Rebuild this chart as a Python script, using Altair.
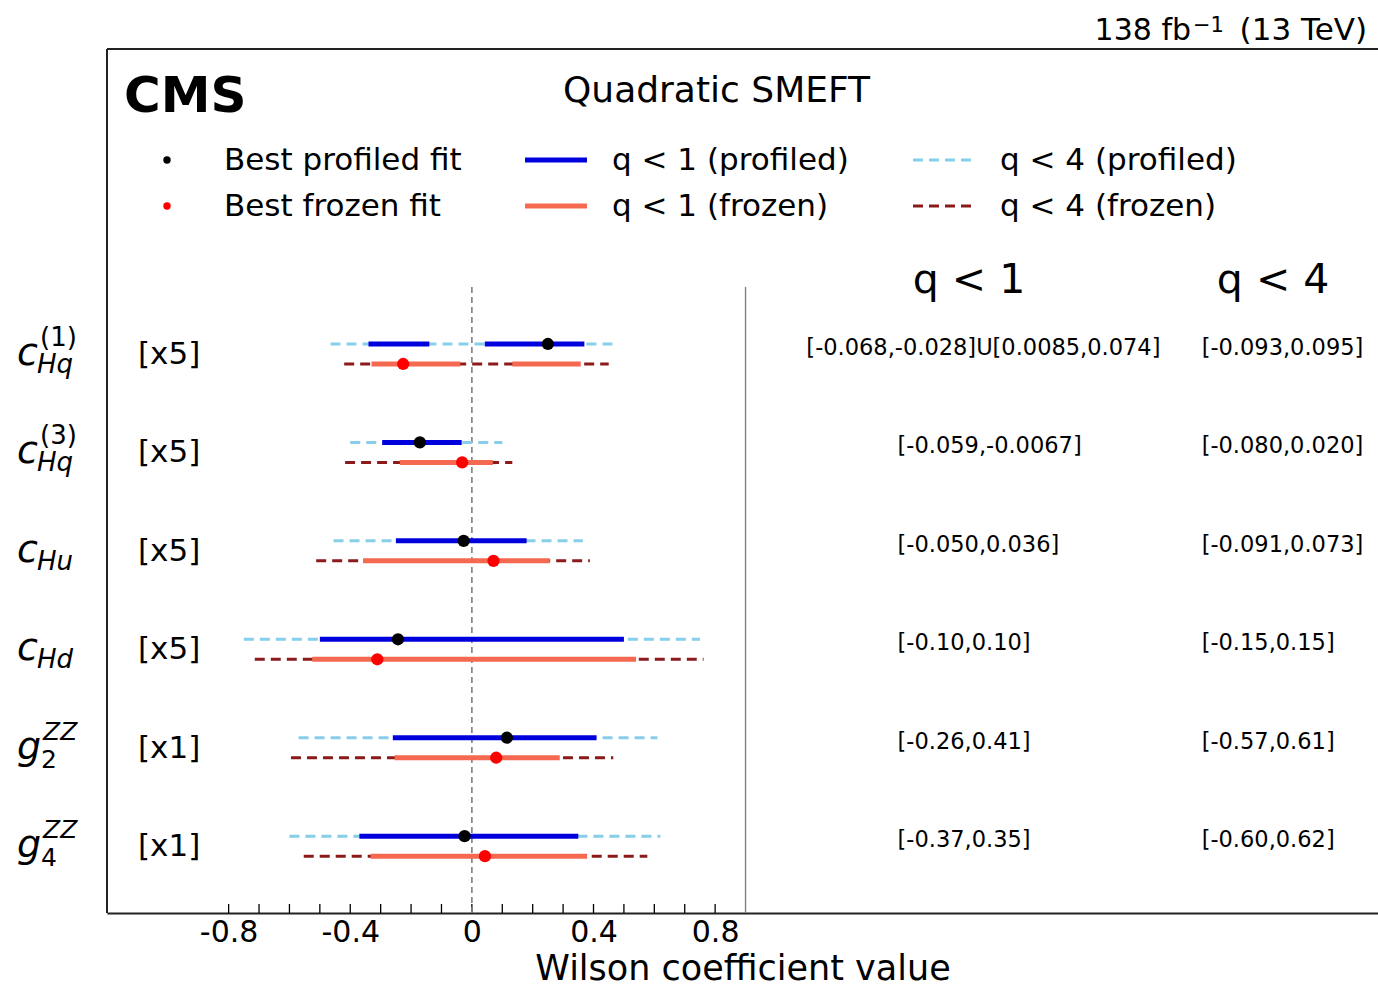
import altair as alt
import pandas as pd

FONT = "DejaVu Sans"
W, H = 1271, 864

# ---------------- data ----------------
rows = [0, 1, 2, 3, 4, 5]
sym_main = ["c", "c", "c", "c", "g", "g"]
sym_sub = ["Hq", "Hq", "Hu", "Hd", "2", "4"]
sym_sup = ["(1)", "(3)", "", "", "ZZ", "ZZ"]
scale_text = ["[x5]", "[x5]", "[x5]", "[x5]", "[x1]", "[x1]"]

# profiled intervals (scaled)
prof_q4_lo = [-0.465, -0.40, -0.455, -0.75, -0.57, -0.60]
prof_q4_hi = [0.475, 0.10, 0.365, 0.75, 0.61, 0.62]
prof_q1_row = [0, 0, 1, 2, 3, 4, 5]
prof_q1_lo = [-0.34, 0.0425, -0.295, -0.25, -0.50, -0.26, -0.37]
prof_q1_hi = [-0.14, 0.37, -0.0335, 0.18, 0.50, 0.41, 0.35]
best_prof = [0.250, -0.171, -0.027, -0.243, 0.115, -0.024]

# frozen intervals (scaled)
froz_q4_lo = [-0.42, -0.417, -0.512, -0.714, -0.595, -0.553]
froz_q4_hi = [0.45, 0.133, 0.388, 0.762, 0.465, 0.577]
froz_q1_row = [0, 0, 1, 2, 3, 4, 5]
froz_q1_lo = [-0.33, 0.133, -0.237, -0.358, -0.525, -0.254, -0.333]
froz_q1_hi = [-0.038, 0.358, 0.069, 0.256, 0.540, 0.289, 0.379]
best_froz = [-0.226, -0.032, 0.071, -0.311, 0.080, 0.043]

q1_text = ["[-0.068,-0.028]U[0.0085,0.074]", "[-0.059,-0.0067]", "[-0.050,0.036]",
           "[-0.10,0.10]", "[-0.26,0.41]", "[-0.37,0.35]"]
q4_text = ["[-0.093,0.095]", "[-0.080,0.020]", "[-0.091,0.073]",
           "[-0.15,0.15]", "[-0.57,0.61]", "[-0.60,0.62]"]
headers = ["q < 1", "q < 4"]
header_x = [1.45, 2.45]

tick_vals = [-0.8, -0.7, -0.6, -0.5, -0.4, -0.3, -0.2, -0.1, 0.0,
             0.1, 0.2, 0.3, 0.4, 0.5, 0.6, 0.7, 0.8]
label_vals = [-0.8, -0.4, 0.0, 0.4, 0.8]
vlines = [0.0, 0.9]

# ---------------- scales / axes ----------------
xs = alt.Scale(domain=[-1.2, 2.98], nice=False, zero=False)
ys = alt.Scale(domain=[-3.098, 5.679], nice=False, zero=False, reverse=True)

XAX = alt.Axis(
    values=label_vals, ticks=False, domain=True, domainColor="#222222", domainWidth=2,
    labelFontSize=30, labelFont=FONT, labelColor="black", labelPadding=4,
    labelExpr="datum.value == 0 ? '0' : (datum.value < 0 ? '-' + format(-datum.value, '.1f') : format(datum.value, '.1f'))",
    title="Wilson coefficient value", titleFont=FONT, titleFontSize=35,
    titleFontWeight="normal", titleColor="black", titlePadding=4, grid=False)


def X(f):
    return alt.X(f, type="quantitative", scale=xs, axis=XAX)


def Y(f):
    return alt.Y(f, type="quantitative", scale=ys, axis=None)


one = pd.DataFrame({"a": [0]})

df_pq4 = pd.DataFrame({"row": rows, "lo": prof_q4_lo, "hi": prof_q4_hi})
df_fq4 = pd.DataFrame({"row": rows, "lo": froz_q4_lo, "hi": froz_q4_hi})
df_pq1 = pd.DataFrame({"row": prof_q1_row, "lo": prof_q1_lo, "hi": prof_q1_hi})
df_fq1 = pd.DataFrame({"row": froz_q1_row, "lo": froz_q1_lo, "hi": froz_q1_hi})
df_bp = pd.DataFrame({"row": rows, "v": best_prof})
df_bf = pd.DataFrame({"row": rows, "v": best_froz})
df_lab = pd.DataFrame({"row": rows, "main": sym_main, "sub": sym_sub, "sup": sym_sup,
                       "scl": scale_text})
df_tab1 = pd.DataFrame({"row": rows, "t": q1_text})
df_tab1["x"] = [1.1 if "U" in t else 1.4 for t in q1_text]
df_tab4 = pd.DataFrame({"row": rows, "t": q4_text})
df_tab4["x"] = 2.4
df_head = pd.DataFrame({"t": headers, "x": header_x})
df_ticks = pd.DataFrame({"t": tick_vals})
df_zero = pd.DataFrame({"x": [vlines[0]], "ytop": [-0.68]})
df_sep = pd.DataFrame({"x": [vlines[1]], "ytop": [-0.68]})

layers = []

# minor ticks (inward) -- also carries the x axis
layers.append(alt.Chart(df_ticks).mark_rule(color="black", strokeWidth=1.3).encode(
    x=X("t:Q"), y=alt.value(H - 9), y2=alt.value(H)))

# frame top & left
layers.append(alt.Chart(one).mark_rule(color="#222222", strokeWidth=2).encode(
    x=alt.value(0), x2=alt.value(W), y=alt.value(0)))
layers.append(alt.Chart(one).mark_rule(color="#222222", strokeWidth=2).encode(
    x=alt.value(0), y=alt.value(0), y2=alt.value(H)))

# zero dashed line and separator
layers.append(alt.Chart(df_zero).mark_rule(color="#808080", strokeWidth=1.6, strokeDash=[6, 4]).encode(
    x=X("x:Q"), y=Y("ytop:Q"), y2=alt.value(H)))
layers.append(alt.Chart(df_sep).mark_rule(color="#808080", strokeWidth=1.4).encode(
    x=X("x:Q"), y=Y("ytop:Q"), y2=alt.value(H)))

# intervals
layers.append(alt.Chart(df_pq4).mark_rule(color="#87CEEB", strokeWidth=3, strokeDash=[10, 6], yOffset=-10).encode(
    x=X("lo:Q"), x2="hi:Q", y=Y("row:Q")))
layers.append(alt.Chart(df_fq4).mark_rule(color="#8B1A1A", strokeWidth=3, strokeDash=[10, 6], yOffset=10).encode(
    x=X("lo:Q"), x2="hi:Q", y=Y("row:Q")))
layers.append(alt.Chart(df_pq1).mark_rule(color="#0000DD", strokeWidth=5, yOffset=-10).encode(
    x=X("lo:Q"), x2="hi:Q", y=Y("row:Q")))
layers.append(alt.Chart(df_fq1).mark_rule(color="#F4694F", strokeWidth=5, yOffset=10).encode(
    x=X("lo:Q"), x2="hi:Q", y=Y("row:Q")))
layers.append(alt.Chart(df_bp).mark_point(filled=True, color="black", opacity=1, size=150, yOffset=-10).encode(
    x=X("v:Q"), y=Y("row:Q")))
layers.append(alt.Chart(df_bf).mark_point(filled=True, color="#FF0000", opacity=1, size=150, yOffset=10).encode(
    x=X("v:Q"), y=Y("row:Q")))

# row labels (math symbols)
layers.append(alt.Chart(df_lab).mark_text(font=FONT, fontSize=38, fontStyle="italic", align="left",
                                          baseline="alphabetic", dy=11, color="black").encode(
    x=alt.value(-90), y=Y("row:Q"), text="main:N"))
layers.append(alt.Chart(df_lab).transform_filter("datum.row < 4").mark_text(
    font=FONT, fontSize=26, fontStyle="italic", align="left", baseline="alphabetic", dy=19, color="black").encode(
    x=alt.value(-70), y=Y("row:Q"), text="sub:N"))
layers.append(alt.Chart(df_lab).transform_filter("datum.row >= 4").mark_text(
    font=FONT, fontSize=25, align="left", baseline="alphabetic", dy=20, color="black").encode(
    x=alt.value(-66), y=Y("row:Q"), text="sub:N"))
layers.append(alt.Chart(df_lab).transform_filter("datum.row < 2").mark_text(
    font=FONT, fontSize=26, align="left", baseline="alphabetic", dy=-8, color="black").encode(
    x=alt.value(-67), y=Y("row:Q"), text="sup:N"))
layers.append(alt.Chart(df_lab).transform_filter("datum.row >= 4").mark_text(
    font=FONT, fontSize=25, fontStyle="italic", align="left", baseline="alphabetic", dy=-8, color="black").encode(
    x=alt.value(-64), y=Y("row:Q"), text="sup:N"))
layers.append(alt.Chart(df_lab).mark_text(font=FONT, fontSize=31, align="left", baseline="alphabetic",
                                          dy=10, color="black").encode(
    x=alt.value(31), y=Y("row:Q"), text="scl:N"))

# table
layers.append(alt.Chart(df_tab1).mark_text(font=FONT, fontSize=22.5, align="left", baseline="alphabetic",
                                           dy=1, color="black").encode(
    x=X("x:Q"), y=Y("row:Q"), text="t:N"))
layers.append(alt.Chart(df_tab4).mark_text(font=FONT, fontSize=22.5, align="left", baseline="alphabetic",
                                           dy=1, color="black").encode(
    x=X("x:Q"), y=Y("row:Q"), text="t:N"))
layers.append(alt.Chart(df_head).mark_text(font=FONT, fontSize=41, align="left", baseline="alphabetic",
                                           color="black").encode(
    x=X("x:Q"), y=alt.value(244), text="t:N"))

# titles
layers.append(alt.Chart(one).mark_text(font=FONT, fontSize=50, fontWeight="bold", align="left",
                                       baseline="alphabetic", color="black", text="CMS").encode(
    x=alt.value(17), y=alt.value(63)))
layers.append(alt.Chart(one).mark_text(font=FONT, fontSize=36, align="left", baseline="alphabetic",
                                       color="black", text="Quadratic SMEFT").encode(
    x=alt.value(456), y=alt.value(53)))
layers.append(alt.Chart(one).mark_text(font=FONT, fontSize=31, align="right", baseline="alphabetic",
                                       color="black", text="(13 TeV)").encode(
    x=alt.value(1260), y=alt.value(-9)))
layers.append(alt.Chart(one).mark_text(font=FONT, fontSize=21, align="left", baseline="alphabetic",
                                       color="black", text="\u22121").encode(
    x=alt.value(1086), y=alt.value(-17)))
layers.append(alt.Chart(one).mark_text(font=FONT, fontSize=30, align="right", baseline="alphabetic",
                                       color="black", text="138 fb").encode(
    x=alt.value(1084), y=alt.value(-9)))

# legend
LT = dict(font=FONT, fontSize=31, align="left", baseline="middle", color="black")
layers.append(alt.Chart(one).mark_point(filled=True, color="black", opacity=1, size=55).encode(
    x=alt.value(60), y=alt.value(111)))
layers.append(alt.Chart(one).mark_point(filled=True, color="#FF0000", opacity=1, size=55).encode(
    x=alt.value(60), y=alt.value(157)))
layers.append(alt.Chart(one).mark_text(text="Best profiled fit", **LT).encode(x=alt.value(117), y=alt.value(112)))
layers.append(alt.Chart(one).mark_text(text="Best frozen fit", **LT).encode(x=alt.value(117), y=alt.value(158)))
layers.append(alt.Chart(one).mark_rule(color="#0000DD", strokeWidth=5).encode(
    x=alt.value(418), x2=alt.value(480), y=alt.value(111)))
layers.append(alt.Chart(one).mark_rule(color="#F4694F", strokeWidth=5).encode(
    x=alt.value(418), x2=alt.value(480), y=alt.value(157)))
layers.append(alt.Chart(one).mark_text(text="q < 1 (profiled)", **LT).encode(x=alt.value(505), y=alt.value(112)))
layers.append(alt.Chart(one).mark_text(text="q < 1 (frozen)", **LT).encode(x=alt.value(505), y=alt.value(158)))
layers.append(alt.Chart(one).mark_rule(color="#87CEEB", strokeWidth=3, strokeDash=[10, 6]).encode(
    x=alt.value(806), x2=alt.value(868), y=alt.value(111)))
layers.append(alt.Chart(one).mark_rule(color="#8B1A1A", strokeWidth=3, strokeDash=[10, 6]).encode(
    x=alt.value(806), x2=alt.value(868), y=alt.value(157)))
layers.append(alt.Chart(one).mark_text(text="q < 4 (profiled)", **LT).encode(x=alt.value(893), y=alt.value(112)))
layers.append(alt.Chart(one).mark_text(text="q < 4 (frozen)", **LT).encode(x=alt.value(893), y=alt.value(158)))

chart = alt.layer(*layers).properties(
    width=W, height=H,
    autosize=alt.AutoSizeParams(type="none"),
    padding={"left": 107, "top": 49, "right": 0, "bottom": 986 - 49 - H},
).configure_view(stroke=None).configure(background="white")

chart.save("out.html", embed_options={"renderer": "svg", "actions": False})
